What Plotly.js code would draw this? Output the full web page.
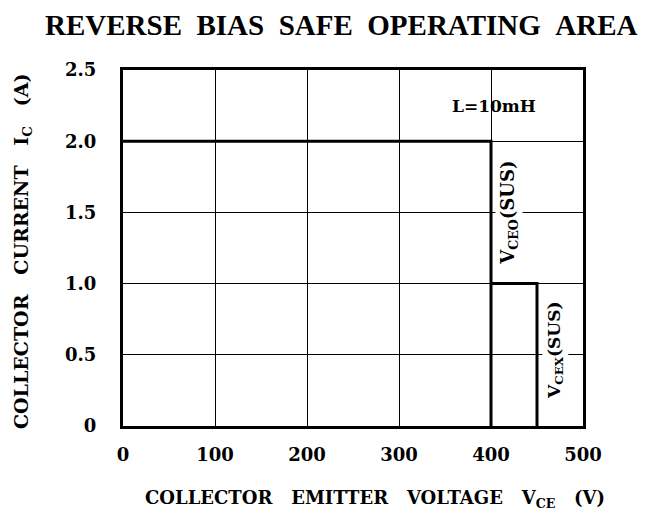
<!DOCTYPE html>
<html><head><meta charset="utf-8">
<script src="https://cdn.plot.ly/plotly-3.0.1.min.js"></script>
<style>html,body{margin:0;padding:0;background:#fff}</style>
</head><body>
<div id="chart" style="width:665px;height:513px"></div>
<script>
const vceoX = [0, 400, 400];
const vceoY = [2.0, 2.0, 0];
const vcexX = [400, 450, 450];
const vcexY = [1.0, 1.0, 0];
const xTicks = [0, 100, 200, 300, 400, 500];
const xTickText = ['0', '100', '200', '300', '400', '500'];
const yTicks = [0, 0.5, 1.0, 1.5, 2.0, 2.5];
const yTickText = ['0', '0.5', '1.0', '1.5', '2.0', '2.5'];

const F = 'DejaVu Serif, Liberation Serif, serif';
const S = '&nbsp;&nbsp;&nbsp;';
const lineStyle = {color: '#000', width: 3};
const traces = [
  {x: vceoX, y: vceoY, mode: 'lines', line: lineStyle, hoverinfo: 'skip'},
  {x: vcexX, y: vcexY, mode: 'lines', line: lineStyle, hoverinfo: 'skip'}
];
const layout = {
  width: 665, height: 513,
  margin: {l: 123, r: 82, t: 70, b: 87},
  paper_bgcolor: '#fff', plot_bgcolor: '#fff',
  showlegend: false,
  font: {family: F, color: '#000', size: 18},
  xaxis: {range: [0, 500], tickvals: xTicks, ticktext: xTickText,
    showgrid: true, gridcolor: '#000', gridwidth: 1, zeroline: false,
    showline: true, linecolor: '#000', linewidth: 3, mirror: true,
    ticks: 'outside', ticklen: 10, tickcolor: 'rgba(0,0,0,0)',
    tickfont: {family: F, size: 18, weight: 'bold'}},
  yaxis: {range: [0, 2.5], tickvals: yTicks, ticktext: yTickText,
    showgrid: true, gridcolor: '#000', gridwidth: 1, zeroline: false,
    showline: true, linecolor: '#000', linewidth: 3, mirror: true,
    ticks: 'outside', ticklen: 20, tickcolor: 'rgba(0,0,0,0)',
    tickfont: {family: F, size: 18, weight: 'bold'}},
  annotations: [
    {xref: 'paper', yref: 'paper', x: 0.476, y: 1.0, yshift: 63, showarrow: false,
      text: 'REVERSE&nbsp;&nbsp;BIAS&nbsp;&nbsp;SAFE&nbsp;&nbsp;OPERATING&nbsp;&nbsp;AREA',
      font: {family: 'Liberation Serif, serif', size: 29, weight: 'bold'}},
    {xref: 'paper', yref: 'paper', x: 0.548, y: -0.245, showarrow: false,
      text: 'COLLECTOR' + S + 'EMITTER' + S + 'VOLTAGE' + S + 'V<sub>CE</sub>' + S + '(V)',
      font: {family: F, size: 18, weight: 'bold'}},
    {xref: 'paper', yref: 'paper', x: -0.25, y: 0.49, showarrow: false, textangle: -90,
      text: 'COLLECTOR' + S + 'CURRENT' + S + 'I<sub>C</sub>' + S + '(A)',
      font: {family: F, size: 19, weight: 'bold'}},
    {x: 403, y: 2.25, showarrow: false, text: 'L=10mH',
      font: {family: F, size: 17, weight: 'bold'}},
    {x: 420, y: 1.5, showarrow: false, textangle: -90, bgcolor: '#fff',
      text: 'V<sub>CEO</sub>(SUS)', font: {family: F, size: 18, weight: 'bold'}},
    {x: 470, y: 0.53, showarrow: false, textangle: -90, bgcolor: '#fff',
      text: 'V<sub>CEX</sub>(SUS)', font: {family: F, size: 17, weight: 'bold'}}
  ]
};
Plotly.newPlot('chart', traces, layout, {displayModeBar: false, staticPlot: true});
</script>
</body></html>
